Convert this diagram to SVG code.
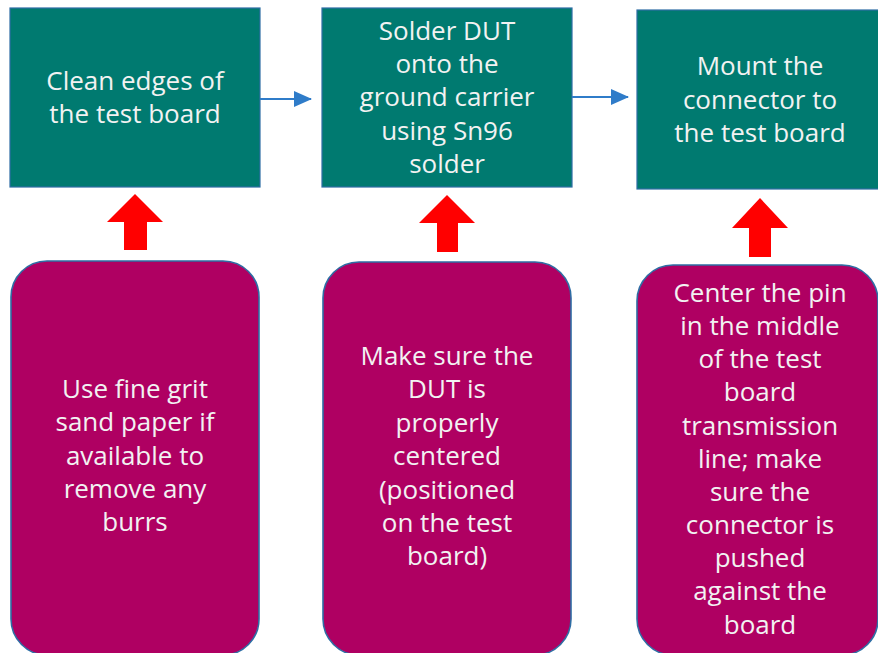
<svg xmlns="http://www.w3.org/2000/svg" width="878" height="653" viewBox="0 0 878 653">
<defs>
<style>
.step{fill:#007A70;stroke:#2E6DA4;stroke-width:1.2}
.note{fill:#AF0062;stroke:#2E6DA4;stroke-width:1.6}
.t{font-family:"Open Sans","Noto Sans",sans-serif;font-size:26px;fill:#F2F2F2;text-anchor:middle}
.flow{stroke:#2F7CC9;stroke-width:2;fill:none}
.up{fill:#FF0000}
</style>
<marker id="ah" markerWidth="18" markerHeight="16" refX="17" refY="8" orient="auto" markerUnits="userSpaceOnUse">
<path d="M0,0 L18,8 L0,16 Z" fill="#2F7CC9"/>
</marker>
</defs>
<rect width="878" height="653" fill="#FFFFFF"/>
<g id="step1">
<rect class="step" x="10" y="8" width="250" height="179"/>
<text class="t" x="135" y="90">Clean edges of</text>
<text class="t" x="135" y="123">the test board</text>
</g>
<g id="step2">
<rect class="step" x="322" y="8" width="250" height="179"/>
<text class="t" x="447" y="40">Solder DUT</text>
<text class="t" x="447" y="73">onto the</text>
<text class="t" x="447" y="106">ground carrier</text>
<text class="t" x="447" y="140">using Sn96</text>
<text class="t" x="447" y="173">solder</text>
</g>
<g id="step3">
<rect class="step" x="637" y="10" width="243" height="179"/>
<text class="t" x="760" y="75">Mount the</text>
<text class="t" x="760" y="109">connector to</text>
<text class="t" x="760" y="142">the test board</text>
</g>
<g id="note1">
<rect class="note" x="11" y="261" width="248" height="394" rx="36" ry="36"/>
<text class="t" x="135" y="398">Use fine grit</text>
<text class="t" x="135" y="431">sand paper if</text>
<text class="t" x="135" y="465">available to</text>
<text class="t" x="135" y="498">remove any</text>
<text class="t" x="135" y="531">burrs</text>
</g>
<g id="note2">
<rect class="note" x="323" y="262" width="248" height="393" rx="36" ry="36"/>
<text class="t" x="447" y="365">Make sure the</text>
<text class="t" x="447" y="398">DUT is</text>
<text class="t" x="447" y="432">properly</text>
<text class="t" x="447" y="465">centered</text>
<text class="t" x="447" y="499">(positioned</text>
<text class="t" x="447" y="532">on the test</text>
<text class="t" x="447" y="565">board)</text>
</g>
<g id="note3">
<rect class="note" x="637" y="265" width="241" height="390" rx="36" ry="36"/>
<text class="t" x="760" y="302">Center the pin</text>
<text class="t" x="760" y="335">in the middle</text>
<text class="t" x="760" y="368">of the test</text>
<text class="t" x="760" y="401">board</text>
<text class="t" x="760" y="435">transmission</text>
<text class="t" x="760" y="468">line; make</text>
<text class="t" x="760" y="501">sure the</text>
<text class="t" x="760" y="534">connector is</text>
<text class="t" x="760" y="567">pushed</text>
<text class="t" x="760" y="600">against the</text>
<text class="t" x="760" y="634">board</text>
</g>
<g id="connectors">
<line class="flow" x1="260" y1="99" x2="311" y2="99" marker-end="url(#ah)"/>
<line class="flow" x1="572" y1="97" x2="628" y2="97" marker-end="url(#ah)"/>
<polygon class="up" points="135,194 163,222 147,222 147,250 124,250 124,222 107,222"/>
<polygon class="up" points="447,195 475,223 458,223 458,252 437,252 437,223 419,223"/>
<polygon class="up" points="760,198 788,228 771,228 771,257 749,257 749,228 732,228"/>
</g>
</svg>
